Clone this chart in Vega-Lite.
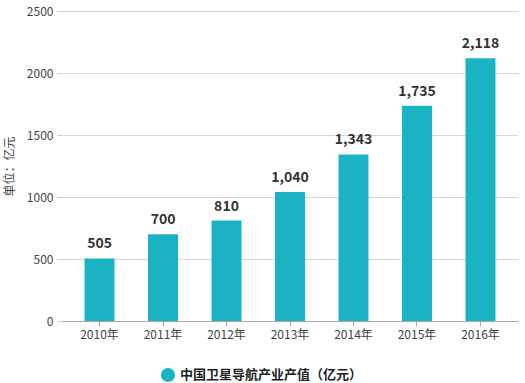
{
  "$schema": "https://vega.github.io/schema/vega-lite/v6.json",
  "width": 456,
  "height": 310,
  "autosize": "none",
  "padding": {"left": 62, "top": 11, "right": 7, "bottom": 62},
  "background": "white",
  "config": {"view": {"stroke": null}, "font": "Noto Sans CJK SC"},
  "data": {"values": [
    {"year": "2010年", "value": 505, "series": "中国卫星导航产业产值（亿元）"},
    {"year": "2011年", "value": 700, "series": "中国卫星导航产业产值（亿元）"},
    {"year": "2012年", "value": 810, "series": "中国卫星导航产业产值（亿元）"},
    {"year": "2013年", "value": 1040, "series": "中国卫星导航产业产值（亿元）"},
    {"year": "2014年", "value": 1343, "series": "中国卫星导航产业产值（亿元）"},
    {"year": "2015年", "value": 1735, "series": "中国卫星导航产业产值（亿元）"},
    {"year": "2016年", "value": 2118, "series": "中国卫星导航产业产值（亿元）"}
  ]},
  "encoding": {
    "x": {"field": "year", "type": "nominal", "sort": null,
      "scale": {"paddingInner": 0.528, "paddingOuter": 0.355},
      "axis": {"title": null, "labelAngle": 0, "labelFontSize": 12, "labelColor": "#444", "labelPadding": 3,
        "domainColor": "#aaaaaa", "tickColor": "#aaaaaa", "tickSize": 5, "grid": false, "labelFont": "Noto Sans CJK SC"}},
    "y": {"field": "value", "type": "quantitative",
      "scale": {"domain": [0, 2500], "nice": false},
      "axis": {"title": "单位：亿元", "titleFontSize": 12, "titleFontWeight": "normal", "titleColor": "#444", "titlePadding": 10,
        "values": [0, 500, 1000, 1500, 2000, 2500], "format": "d", "labelFontSize": 12, "labelColor": "#444", "labelPadding": 4,
        "tickSize": 5, "tickColor": "#cccccc", "domain": false, "gridColor": "#d8d8d8", "labelFont": "Noto Sans CJK SC"}}
  },
  "layer": [
    {"mark": {"type": "bar", "color": "#19b3c3"},
     "encoding": {"color": {"field": "series", "type": "nominal", "scale": {"range": ["#19b3c3"]},
       "legend": {"title": null, "orient": "none", "legendX": 98, "legendY": 356, "symbolType": "circle", "symbolSize": 200,
         "labelFontSize": 13, "labelFontWeight": "bold", "labelColor": "#222", "labelLimit": 0, "labelFont": "Noto Sans CJK SC"}}}},
    {"mark": {"type": "text", "dy": -14, "fontSize": 14, "fontWeight": "bold", "color": "#333", "font": "Noto Sans CJK SC"},
     "encoding": {"text": {"field": "value", "type": "quantitative", "format": ","}}}
  ]
}
